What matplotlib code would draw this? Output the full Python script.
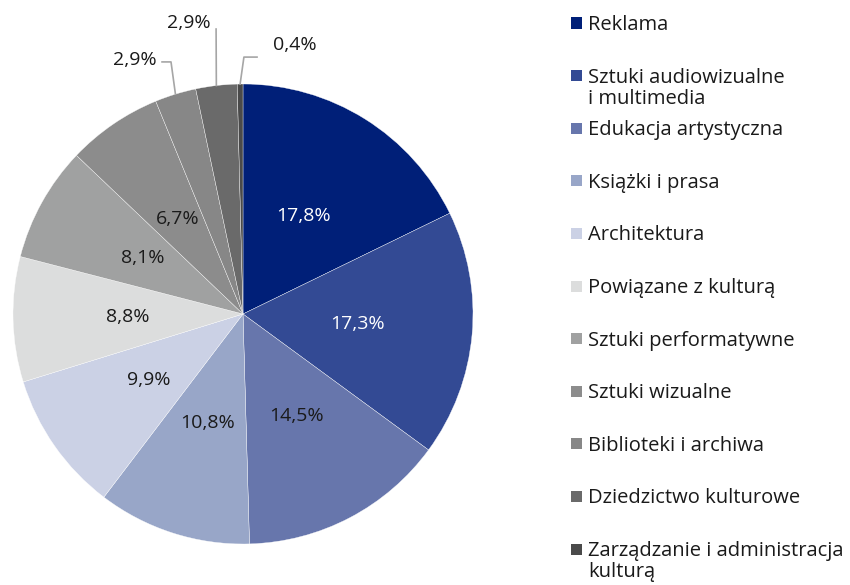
import numpy as np
import matplotlib.pyplot as plt
from matplotlib.patches import Rectangle

plt.rcParams['font.family'] = ['Open Sans', 'DejaVu Sans']

# data
categories = ['Reklama', 'Sztuki audiowizualne\ni multimedia', 'Edukacja artystyczna',
              'Książki i prasa', 'Architektura', 'Powiązane z kulturą',
              'Sztuki performatywne', 'Sztuki wizualne', 'Biblioteki i archiwa',
              'Dziedzictwo kulturowe', 'Zarządzanie i administracja\nkulturą']
shares = [17.8, 17.3, 14.5, 10.8, 9.9, 8.8, 8.1, 6.7, 2.9, 2.9, 0.4]
colors = ['#001f78', '#334a94', '#6776ac', '#98a6c8', '#cbd1e5', '#dcdddd',
          '#a0a1a1', '#8c8c8c', '#878787', '#6a6a6a', '#4a4a4a']

W, H = 850, 585
CX, CY, R = 243, 314, 230   # pie centre / radius in pixels

fig = plt.figure(figsize=(W / 100, H / 100), dpi=100)
ax = fig.add_axes([0, 0, 1, 1])

wedges, _ = ax.pie(shares, colors=colors, startangle=90, counterclock=False,
                   radius=1, wedgeprops=dict(edgecolor='white', linewidth=0.25))
ax.set_xlim(-CX / R, (W - CX) / R)
ax.set_ylim((CY - H) / R, CY / R)
ax.axis('off')


def pct(v):
    return f"{v:.1f}%".replace('.', ',')


# labels inside the big slices
for i, (w, v) in enumerate(zip(wedges, shares)):
    if v < 5:
        continue
    theta = np.deg2rad((w.theta1 + w.theta2) / 2)
    txt_col = 'white' if i < 2 else '#1a1a1a'
    ax.text(0.5 * np.cos(theta), 0.5 * np.sin(theta), pct(v), ha='center',
            va='center', fontsize=14, color=txt_col)

# small slices: labels outside with leader lines
# (label x, label y, elbow points) in pie units
outside = {
    8: ((-0.47, 1.104), [(-0.313, 1.096), (-0.352, 1.096)]),
    9: ((-0.235, 1.265), [(-0.117, 1.239)]),
    10: ((0.226, 1.17), [(0.004, 1.117), (0.061, 1.117)]),
}
for i, (lab_xy, elbow) in outside.items():
    w = wedges[i]
    theta = np.deg2rad((w.theta1 + w.theta2) / 2)
    xs = [np.cos(theta)] + [p[0] for p in elbow]
    ys = [np.sin(theta)] + [p[1] for p in elbow]
    ax.plot(xs, ys, color='#a6a6a6', lw=1.2, clip_on=False)
    ax.text(lab_xy[0], lab_xy[1], pct(shares[i]), ha='center', va='center',
            fontsize=14, color='#1a1a1a', clip_on=False)

# legend
row0, step, line_h = 23, 52.6, 21.5
for i, (name, c) in enumerate(zip(categories, colors)):
    y = row0 + i * step
    fig.add_artist(Rectangle((571 / W, 1 - (y + 5.5) / H), 11 / W, 11 / H,
                             transform=fig.transFigure, facecolor=c,
                             edgecolor='none'))
    for k, line in enumerate(name.split('\n')):
        fig.text(588 / W, 1 - (y + 7 + k * line_h) / H, line, ha='left',
                 va='baseline', fontsize=14.5, color='#1a1a1a')

fig.savefig('out.png', dpi=100)
